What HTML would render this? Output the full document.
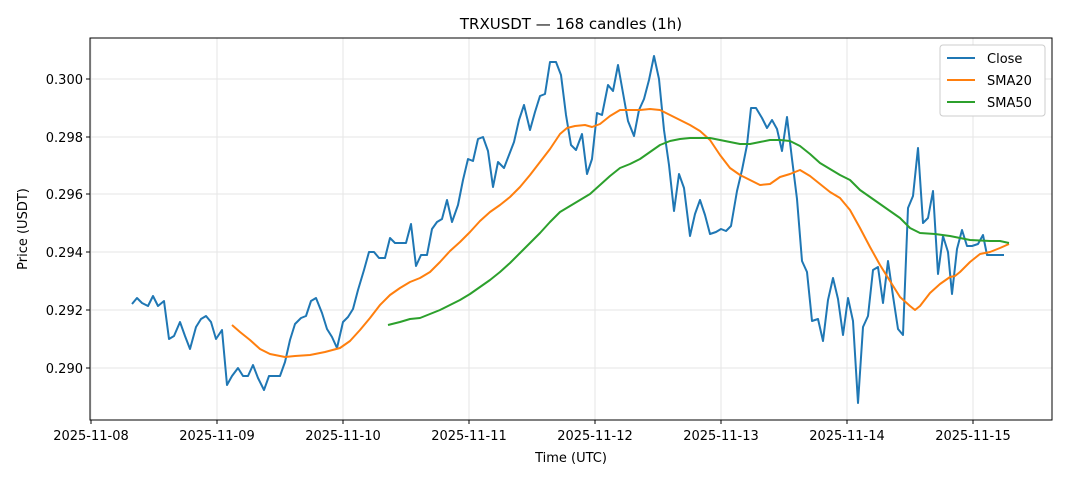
<!DOCTYPE html>
<html><head><meta charset="utf-8"><style>
html,body{margin:0;padding:0;background:#fff;}
svg{display:block;font-family:"DejaVu Sans","Liberation Sans",sans-serif;}
</style></head><body>
<svg width="1068" height="481" viewBox="0 0 1068 481" xmlns="http://www.w3.org/2000/svg">
<rect width="1068" height="481" fill="#fff"/>
<text x="571" y="29" font-size="15" text-anchor="middle" fill="#000">TRXUSDT — 168 candles (1h)</text>
<g stroke="#e6e6e6" stroke-width="1">
<line x1="91" y1="38" x2="91" y2="420"/><line x1="217" y1="38" x2="217" y2="420"/><line x1="343" y1="38" x2="343" y2="420"/><line x1="469" y1="38" x2="469" y2="420"/><line x1="595" y1="38" x2="595" y2="420"/><line x1="721" y1="38" x2="721" y2="420"/><line x1="847" y1="38" x2="847" y2="420"/><line x1="973" y1="38" x2="973" y2="420"/>
<line x1="90" y1="368" x2="1052" y2="368"/><line x1="90" y1="310" x2="1052" y2="310"/><line x1="90" y1="252" x2="1052" y2="252"/><line x1="90" y1="194" x2="1052" y2="194"/><line x1="90" y1="137" x2="1052" y2="137"/><line x1="90" y1="79" x2="1052" y2="79"/>
</g>
<g fill="none" stroke-width="2" stroke-linejoin="round">
<polyline stroke="#1f77b4" points="132,304 137,298 142,303 148,306 153,296 158,306 164,301 169,339 174,336 180,322 185,336 190,349 196,327 201,319 206,316 211,322 216,339 222,330 227,385 232,376 238,368 243,376 248,376 253,365 258,378 264,390 269,376 274,376 280,376 285,362 290,340 295,324 301,318 306,316 311,301 316,298 322,313 327,329 332,337 337,348 343,322 348,317 353,309 358,290 364,270 369,252 374,252 379,258 385,258 390,238 395,243 400,243 406,243 411,224 416,266 421,255 427,255 432,229 437,222 442,219 447,200 452,222 458,205 463,180 468,159 473,161 478,139 483,137 488,151 493,187 498,162 504,168 509,155 514,142 519,120 524,105 530,130 535,112 540,96 545,94 550,62 556,62 561,75 566,115 571,145 576,150 582,134 587,174 592,159 597,113 602,115 608,85 613,91 618,65 623,93 628,121 634,136 639,110 644,99 649,80 654,56 659,79 664,130 669,165 674,211 679,174 684,188 690,236 695,214 700,200 705,215 710,234 716,232 721,229 726,231 731,226 737,191 742,170 747,145 751,108 756,108 762,118 767,128 772,120 777,129 782,151 787,117 792,159 797,199 802,261 807,272 812,321 818,319 823,341 828,300 833,278 838,299 843,335 848,298 853,321 858,403 863,327 868,316 873,270 878,267 883,303 888,261 893,296 898,329 903,335 908,208 913,196 918,148 923,223 928,218 933,191 938,274 943,236 948,252 952,294 957,249 962,230 967,246 972,246 978,244 983,235 987,255 1004,255"/>
<polyline stroke="#ff7f0e" points="232,325 240,332 250,340 260,349 270,354 285,357 295,356 310,355 325,352 340,348 350,341 360,330 370,318 380,305 390,295 400,288 410,282 420,278 430,272 440,262 450,251 460,242 470,232 480,221 490,212 500,205 510,197 520,187 530,175 540,162 550,149 560,134 567,128 575,126 585,125 592,127 600,124 610,116 620,110 630,110 640,110 650,109 660,110 670,115 680,120 690,125 700,131 710,140 720,155 730,168 740,175 750,180 760,185 770,184 780,177 790,174 800,170 810,176 820,184 830,192 840,198 850,210 860,228 870,247 880,265 890,281 900,297 910,306 915,310 920,306 930,293 940,284 950,277 955,276 960,272 970,262 980,254 990,252 1000,248 1009,244"/>
<polyline stroke="#2ca02c" points="388,325 400,322 410,319 420,318 430,314 440,310 450,305 460,300 470,294 480,287 490,280 500,272 510,263 520,253 530,243 540,233 550,222 560,212 570,206 580,200 590,194 600,185 610,176 620,168 630,164 640,159 650,152 660,145 670,141 680,139 690,138 700,138 710,138 720,140 730,142 740,144 750,144 760,142 770,140 780,140 790,141 800,146 810,154 820,163 830,169 840,175 850,180 860,190 870,197 880,204 890,211 900,218 910,228 920,233 935,234 950,236 960,238 970,240 990,241 1000,241 1009,243"/>
</g>
<rect x="90" y="38" width="962" height="382" fill="none" stroke="#000" stroke-width="1"/>
<g stroke="#000" stroke-width="1">
<line x1="91" y1="420" x2="91" y2="424"/><line x1="217" y1="420" x2="217" y2="424"/><line x1="343" y1="420" x2="343" y2="424"/><line x1="469" y1="420" x2="469" y2="424"/><line x1="595" y1="420" x2="595" y2="424"/><line x1="721" y1="420" x2="721" y2="424"/><line x1="847" y1="420" x2="847" y2="424"/><line x1="973" y1="420" x2="973" y2="424"/>
<line x1="86" y1="368" x2="90" y2="368"/><line x1="86" y1="310" x2="90" y2="310"/><line x1="86" y1="252" x2="90" y2="252"/><line x1="86" y1="194" x2="90" y2="194"/><line x1="86" y1="137" x2="90" y2="137"/><line x1="86" y1="79" x2="90" y2="79"/>
</g>
<g font-size="13" fill="#000" text-anchor="middle">
<text x="91" y="440">2025-11-08</text><text x="217" y="440">2025-11-09</text><text x="343" y="440">2025-11-10</text><text x="469" y="440">2025-11-11</text><text x="595" y="440">2025-11-12</text><text x="721" y="440">2025-11-13</text><text x="847" y="440">2025-11-14</text><text x="973" y="440">2025-11-15</text>
<text x="571" y="462">Time (UTC)</text>
</g>
<g font-size="13" fill="#000" text-anchor="end">
<text x="83" y="373">0.290</text><text x="83" y="315">0.292</text><text x="83" y="257">0.294</text><text x="83" y="199">0.296</text><text x="83" y="142">0.298</text><text x="83" y="84">0.300</text>
</g>
<text transform="translate(27,229) rotate(-90)" font-size="13" text-anchor="middle">Price (USDT)</text>
<rect x="940" y="45" width="105" height="71" rx="3" fill="#fff" stroke="#ccc"/>
<g stroke-width="2"><line x1="947" y1="58" x2="975" y2="58" stroke="#1f77b4"/><line x1="947" y1="80" x2="975" y2="80" stroke="#ff7f0e"/><line x1="947" y1="102" x2="975" y2="102" stroke="#2ca02c"/></g>
<g font-size="13" fill="#000"><text x="987" y="63">Close</text><text x="987" y="85">SMA20</text><text x="987" y="107">SMA50</text></g>
</svg>
</body></html>
